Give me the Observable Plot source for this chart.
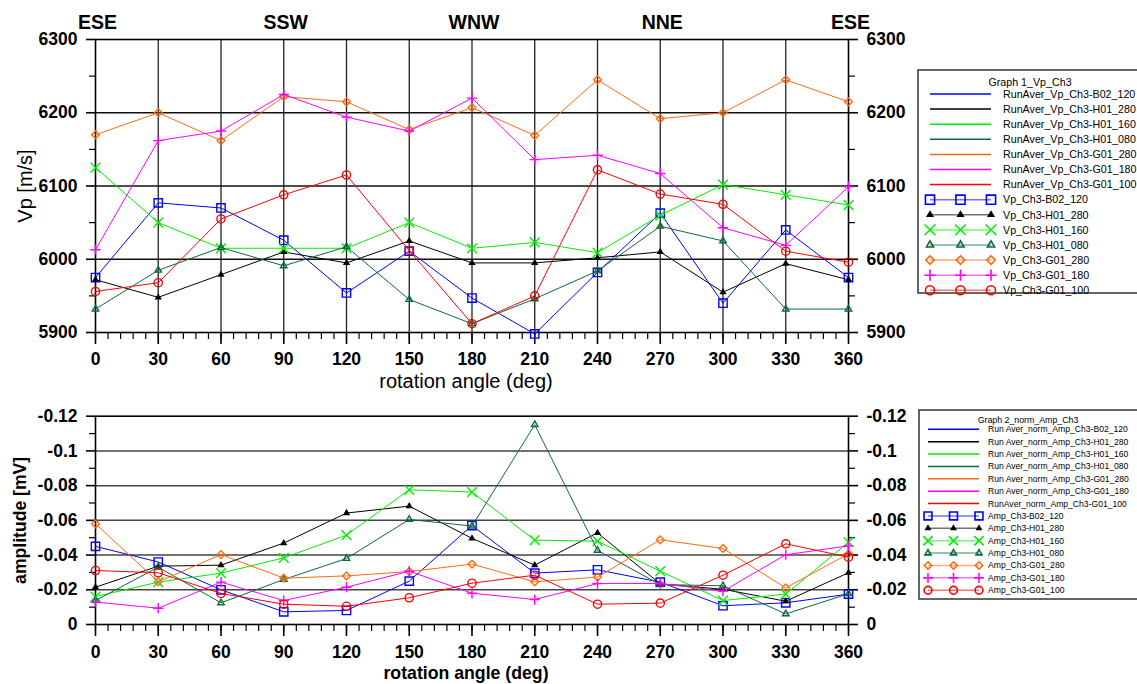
<!DOCTYPE html>
<html>
<head>
<meta charset="utf-8">
<script src="https://cdn.jsdelivr.net/npm/d3@7"></script>
<script src="https://cdn.jsdelivr.net/npm/@observablehq/plot@0.6"></script>
<style>
  body { margin: 0; background: #fff; font-family: "Liberation Sans", Arial, sans-serif; }
  #wrap { position: relative; width: 1137px; height: 684px; overflow: hidden; background: #fff; }
  #vp { position: absolute; left: 0; top: 0; }
  #amp { position: absolute; left: 0; top: 395px; }
  #legends { position: absolute; left: 0; top: 0; pointer-events: none; }
</style>
</head>
<body>
<div id="wrap">
  <div id="vp"></div>
  <div id="amp"></div>
  <svg id="legends" width="1137" height="684"></svg>
</div>
<script>
// Rotation angles (deg)
const angles = [0, 30, 60, 90, 120, 150, 180, 210, 240, 270, 300, 330, 360];
const minorAngles = d3.range(0, 361, 6);
const directions = ["ESE", "SSW", "WNW", "NNE", "ESE"];
const directionAngles = [0, 90, 180, 270, 360];

// P-wave velocity, channel 3 (m/s)
const vpB02_120 = [5975, 6077, 6070, 6026, 5954, 6011, 5947, 5898, 5982, 6063, 5940, 6040, 5975];
const vpH01_280 = [5972, 5948, 5979, 6010, 5995, 6025, 5995, 5995, 6002, 6010, 5955, 5994, 5972];
const vpH01_160 = [6125, 6050, 6015, 6015, 6015, 6050, 6015, 6023, 6009, 6060, 6102, 6088, 6074];
const vpH01_080 = [5932, 5985, 6016, 5991, 6017, 5945, 5912, 5946, 5984, 6045, 6025, 5932, 5932];
const vpG01_280 = [6170, 6200, 6162, 6222, 6215, 6177, 6207, 6169, 6245, 6192, 6200, 6245, 6215];
const vpG01_180 = [6013, 6162, 6175, 6225, 6194, 6175, 6220, 6136, 6142, 6117, 6043, 6019, 6099];
const vpG01_100 = [5956, 5968, 6055, 6088, 6115, 6012, 5912, 5950, 6122, 6089, 6075, 6011, 5996];

// Normalised amplitude, channel 3 (mV)
const ampB02_120 = [-0.0450, -0.0360, -0.0200, -0.0073, -0.0081, -0.0250, -0.0570, -0.0296, -0.0315, -0.0244, -0.0108, -0.0125, -0.0175];
const ampH01_280 = [-0.0215, -0.0336, -0.0342, -0.0469, -0.0642, -0.0682, -0.0496, -0.0342, -0.0528, -0.0234, -0.0203, -0.0134, -0.0298];
const ampH01_160 = [-0.0161, -0.0244, -0.0296, -0.0384, -0.0515, -0.0776, -0.0763, -0.0486, -0.0480, -0.0307, -0.0138, -0.0175, -0.0474];
const ampH01_080 = [-0.0138, -0.0330, -0.0125, -0.0259, -0.0380, -0.0605, -0.0567, -0.1151, -0.0427, -0.0230, -0.0223, -0.0061, -0.0177];
const ampG01_280 = [-0.0580, -0.0246, -0.0403, -0.0267, -0.0280, -0.0305, -0.0348, -0.0246, -0.0273, -0.0488, -0.0438, -0.0211, -0.0407];
const ampG01_180 = [-0.0129, -0.0094, -0.0244, -0.0138, -0.0215, -0.0307, -0.0180, -0.0144, -0.0236, -0.0236, -0.0192, -0.0402, -0.0453];
const ampG01_100 = [-0.0311, -0.0298, -0.0179, -0.0117, -0.0105, -0.0154, -0.0238, -0.0284, -0.0117, -0.0123, -0.0284, -0.0465, -0.0388];

// Axis ticks
const vpTicks = [5900, 6000, 6100, 6200, 6300];
const vpMinorTicks = [5950, 6050, 6150, 6250];
const vpGrid = [6000, 6100, 6200];
const ampTicks = [0, -0.02, -0.04, -0.06, -0.08, -0.1, -0.12];
const ampMinorTicks = [-0.01, -0.03, -0.05, -0.07, -0.09, -0.11];
const ampGrid = [-0.02, -0.04, -0.06, -0.08, -0.1];

// Series names and styles
const seriesIds = ["B02_120", "H01_280", "H01_160", "H01_080", "G01_280", "G01_180", "G01_100"];
const seriesColors = ["#0000ff", "#000000", "#00ee00", "#0b6b3a", "#ff6a10", "#ff00ff", "#ff0000"];
const seriesSymbols = ["square2", "triangle", "times", "triangle2", "diamond2", "plus", "circle"];
const seriesRadius = [5.3, 2.7, 4.5, 3.1, 3.5, 3.4, 4.1];
const seriesFilled = [false, true, false, false, false, false, false];
const vpSeries = [vpB02_120, vpH01_280, vpH01_160, vpH01_080, vpG01_280, vpG01_180, vpG01_100];
const ampSeries = [ampB02_120, ampH01_280, ampH01_160, ampH01_080, ampG01_280, ampG01_180, ampG01_100];

const FONT = "'Liberation Sans', Arial, sans-serif";

function seriesMarks(values) {
  return values.flatMap((vals, k) => {
    const rows = angles.map((a, i) => ({angle: a, value: vals[i]}));
    return [
      Plot.line(rows, {x: "angle", y: "value", stroke: seriesColors[k], strokeWidth: 1}),
      Plot.dot(rows, {
        x: "angle", y: "value", symbol: seriesSymbols[k], r: seriesRadius[k],
        stroke: seriesFilled[k] ? "none" : seriesColors[k],
        fill: seriesFilled[k] ? seriesColors[k] : "none",
        strokeWidth: 1.4
      })
    ];
  });
}

const fmt = (d) => String(d);
const blank = () => "";

// Upper panel: Vp
const vpPlot = Plot.plot({
  width: 918, height: 395,
  marginLeft: 95, marginRight: 70, marginTop: 39, marginBottom: 63,
  style: {fontFamily: FONT, fontSize: "17.5px", fontWeight: "bold", color: "#000", background: "transparent", overflow: "visible"},
  x: {domain: [0, 360]},
  y: {domain: [5900, 6300]},
  marks: [
    Plot.ruleX(angles.slice(1, -1), {stroke: "#222", strokeWidth: 1.3}),
    Plot.ruleY(vpGrid, {stroke: "#111", strokeWidth: 1.3}),
    Plot.frame({stroke: "#000", strokeWidth: 1.6}),
    Plot.axisX(minorAngles, {tickSize: 7, tickFormat: blank, label: null, strokeWidth: 1.2}),
    Plot.axisX(angles, {tickSize: 12, tickPadding: 8, tickFormat: fmt, label: null, strokeWidth: 1.6}),
    Plot.axisY(vpMinorTicks, {anchor: "left", tickSize: 6, tickFormat: blank, label: null, strokeWidth: 1.2}),
    Plot.axisY(vpTicks, {anchor: "left", tickSize: 9, tickPadding: 9, tickFormat: fmt, label: null, strokeWidth: 1.6}),
    Plot.axisY(vpMinorTicks, {anchor: "right", tickSize: 6, tickFormat: blank, label: null, strokeWidth: 1.2}),
    Plot.axisY(vpTicks, {anchor: "right", tickSize: 9, tickPadding: 9, tickFormat: fmt, label: null, strokeWidth: 1.6}),
    ...seriesMarks(vpSeries),
    Plot.text(directionAngles.map((a, i) => ({angle: a, label: directions[i]})), {
      x: "angle", text: "label", frameAnchor: "top", lineAnchor: "middle", dy: -17, dx: 2, fontSize: 19.5
    }),
    Plot.text(["Vp [m/s]"], {text: (d) => d, frameAnchor: "left", textAnchor: "middle", lineAnchor: "middle", rotate: -90, dx: -70, fontSize: 20, fontWeight: "normal"}),
    Plot.text(["rotation angle (deg)"], {text: (d) => d, frameAnchor: "bottom", textAnchor: "middle", lineAnchor: "middle", dy: 49, dx: -6, fontSize: 20, fontWeight: "normal"})
  ]
});
document.getElementById("vp").append(vpPlot);

// Lower panel: normalised amplitude
const ampPlot = Plot.plot({
  width: 918, height: 289,
  marginLeft: 95, marginRight: 70, marginTop: 20.7, marginBottom: 60,
  style: {fontFamily: FONT, fontSize: "17.5px", fontWeight: "bold", color: "#000", background: "transparent", overflow: "visible"},
  x: {domain: [0, 360]},
  y: {domain: [0, -0.12]},
  marks: [
    Plot.ruleY(ampGrid, {stroke: "#444", strokeWidth: 1.5}),
    Plot.frame({stroke: "#000", strokeWidth: 1.6}),
    Plot.axisX(minorAngles, {tickSize: 7, tickFormat: blank, label: null, strokeWidth: 1.2}),
    Plot.axisX(angles, {tickSize: 12, tickPadding: 9, tickFormat: fmt, label: null, strokeWidth: 1.6}),
    Plot.axisY(ampMinorTicks, {anchor: "left", tickSize: 6, tickFormat: blank, label: null, strokeWidth: 1.2}),
    Plot.axisY(ampTicks, {anchor: "left", tickSize: 9, tickPadding: 9, tickFormat: fmt, label: null, strokeWidth: 1.6}),
    Plot.axisY(ampMinorTicks, {anchor: "right", tickSize: 6, tickFormat: blank, label: null, strokeWidth: 1.2}),
    Plot.axisY(ampTicks, {anchor: "right", tickSize: 9, tickPadding: 9, tickFormat: fmt, label: null, strokeWidth: 1.6}),
    ...seriesMarks(ampSeries),
    Plot.text(["amplitude [mV]"], {text: (d) => d, frameAnchor: "left", textAnchor: "middle", lineAnchor: "middle", rotate: -90, dx: -75, fontSize: 17.6}),
    Plot.text(["rotation angle (deg)"], {text: (d) => d, frameAnchor: "bottom", textAnchor: "middle", lineAnchor: "middle", dy: 49, dx: -6, fontSize: 17.7})
  ]
});
document.getElementById("amp").append(ampPlot);

// Legends
const symbolTypes = {
  square2: d3.symbolSquare2, triangle: d3.symbolTriangle, times: d3.symbolTimes,
  triangle2: d3.symbolTriangle2, diamond2: d3.symbolDiamond2, plus: d3.symbolPlus, circle: d3.symbolCircle
};
const legendSvg = d3.select("#legends").style("font-family", FONT);

function drawLegend(cfg) {
  const g = legendSvg.append("g");
  g.append("rect").attr("x", cfg.x).attr("y", cfg.y).attr("width", 260).attr("height", cfg.h)
    .attr("fill", "#fff").attr("stroke", "#333").attr("stroke-width", 1.5);
  g.append("text").attr("x", cfg.titleX).attr("y", cfg.titleY).attr("text-anchor", "middle")
    .attr("dy", "0.35em").attr("font-size", cfg.titleSize).text(cfg.title);
  const rows = [
    ...seriesIds.map((id, k) => ({label: cfg.runLabel(id, k), k, marker: false})),
    ...seriesIds.map((id, k) => ({label: cfg.markLabel(id), k, marker: true}))
  ];
  rows.forEach((row, i) => {
    const y = cfg.row0 + i * cfg.rowStep;
    const color = seriesColors[row.k];
    g.append("line").attr("x1", cfg.x1).attr("x2", cfg.x2).attr("y1", y).attr("y2", y)
      .attr("stroke", color).attr("stroke-width", 1.5).attr("stroke-opacity", row.marker ? 0.55 : 1);
    if (row.marker) {
      const size = Math.PI * Math.pow(seriesRadius[row.k] * cfg.symbolScale, 2);
      const path = d3.symbol(symbolTypes[seriesSymbols[row.k]], size)();
      [cfg.x1, (cfg.x1 + cfg.x2) / 2, cfg.x2].forEach((sx) => {
        g.append("path").attr("d", path).attr("transform", `translate(${sx},${y})`)
          .attr("fill", seriesFilled[row.k] ? color : "none")
          .attr("stroke", seriesFilled[row.k] ? "none" : color)
          .attr("stroke-width", 1.6);
      });
    }
    g.append("text").attr("x", cfg.textX).attr("y", y).attr("dy", "0.35em")
      .attr("font-size", cfg.fontSize).text(row.label);
  });
}

drawLegend({
  x: 918, y: 70, h: 223, title: "Graph 1_Vp_Ch3", titleX: 1030, titleY: 82.5, titleSize: 10.7,
  row0: 94, rowStep: 15.1, x1: 930, x2: 991, textX: 1003, fontSize: 10.7, symbolScale: 1.1,
  runLabel: (id) => "RunAver_Vp_Ch3-" + id,
  markLabel: (id) => "Vp_Ch3-" + id
});
drawLegend({
  x: 919, y: 410, h: 189, title: "Graph 2_norm_Amp_Ch3", titleX: 1028, titleY: 420, titleSize: 8.8,
  row0: 429.3, rowStep: 12.38, x1: 928, x2: 979, textX: 988, fontSize: 8.6, symbolScale: 0.95,
  runLabel: (id, k) => (k === 6 ? "RunAver" : "Run Aver") + "_norm_Amp_Ch3-" + id,
  markLabel: (id) => "Amp_Ch3-" + id
});
</script>
</body>
</html>
